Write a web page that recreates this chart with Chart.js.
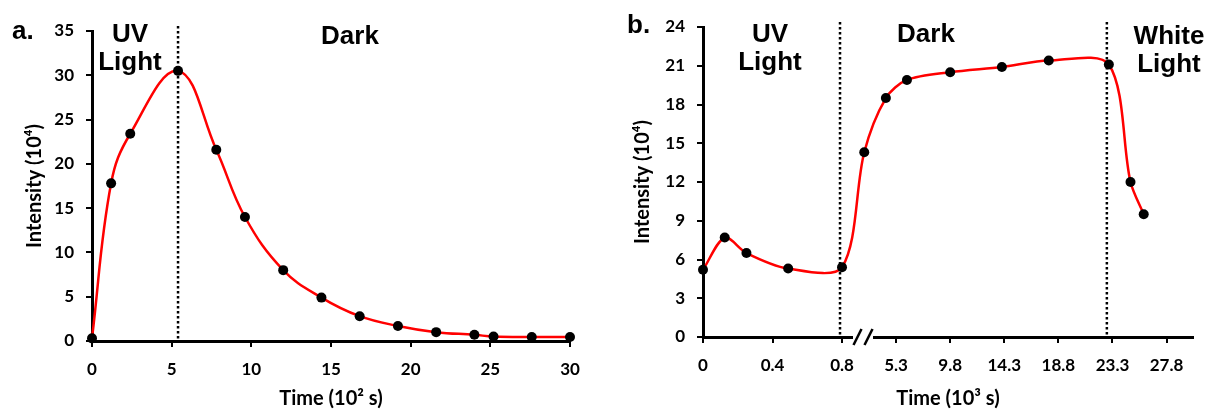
<!DOCTYPE html>
<html>
<head>
<meta charset="utf-8">
<script src="https://cdn.jsdelivr.net/npm/chart.js@4.4.1/dist/chart.umd.min.js"></script>
<style>
  body { margin: 0; background: #fff; }
  #wrap { position: relative; width: 1208px; height: 411px; overflow: hidden; }
  .box { position: absolute; top: 0; }
  .lbl { position: absolute; font-family: "Liberation Sans", Arial, sans-serif; font-weight: bold;
         font-size: 26px; line-height: 28px; color: #000; text-align: center; white-space: nowrap; }
</style>
</head>
<body>
<div id="wrap">
  <div class="box" style="left:0;width:600px;height:411px"><canvas id="chartA" width="600" height="411"></canvas></div>
  <div class="box" style="left:600px;width:608px;height:411px"><canvas id="chartB" width="608" height="411"></canvas></div>

  <div class="lbl" style="left:12px;top:16px;text-align:left">a.</div>
  <div class="lbl" style="left:80px;width:100px;top:19px">UV<br>Light</div>
  <div class="lbl" style="left:300px;width:100px;top:21px">Dark</div>

  <div class="lbl" style="left:627px;top:10px;text-align:left">b.</div>
  <div class="lbl" style="left:720px;width:100px;top:19px">UV<br>Light</div>
  <div class="lbl" style="left:876px;width:100px;top:19px">Dark</div>
  <div class="lbl" style="left:1119px;width:100px;top:21px">White<br>Light</div>
</div>
<script>
// panel a: time in 10^2 s, intensity in 10^4
const timeA = [0, 1.2, 2.4, 5.4, 7.8, 9.6, 12, 14.4, 16.8, 19.2, 21.6, 24, 25.2, 27.6, 30];
const intensityA = [0.3, 17.8, 23.4, 30.5, 21.6, 14.0, 8.0, 4.9, 2.8, 1.7, 1.0, 0.7, 0.5, 0.45, 0.45];
const switchA = [5.4];

// panel b: time in 10^3 s (axis broken after 0.8)
const timeB = [0, 0.125, 0.25, 0.49, 0.8, 2.65, 4.45, 6.2, 9.8, 14.1, 18.0, 23.0, 24.8, 25.9];
const intensityB = [5.2, 7.7, 6.5, 5.3, 5.4, 14.3, 18.5, 19.9, 20.5, 20.9, 21.4, 21.1, 12.0, 9.5];
const xTicksB = [0, 0.4, 0.8, 5.3, 9.8, 14.3, 18.8, 23.3, 27.8];
const switchB = [0.8, 23.0];

const BREAK_AT = 0.8;
const BREAK_FRAC = 0.2837;

const tickFont = { family: 'Lato, "Open Sans", sans-serif', weight: 'bold', size: 17 };
const titleFont = { family: 'Lato, "Open Sans", sans-serif', weight: 'bold', size: 20 };

class BrokenLinearScale extends Chart.LinearScale {
    buildTicks() {
        return xTicksB.map(v => ({ value: v }));
    }
    getPixelForValue(value) {
        if (value === null || value === undefined || isNaN(value)) return NaN;
        let d;
        if (value <= BREAK_AT) {
            d = (value - this.min) / (BREAK_AT - this.min) * BREAK_FRAC;
        } else {
            d = BREAK_FRAC + (value - BREAK_AT) / (this.max - BREAK_AT) * (1 - BREAK_FRAC);
        }
        return this.getPixelForDecimal(d);
    }
    getValueForPixel(pixel) {
        const d = this.getDecimalForPixel(pixel);
        if (d <= BREAK_FRAC) return this.min + d / BREAK_FRAC * (BREAK_AT - this.min);
        return BREAK_AT + (d - BREAK_FRAC) / (1 - BREAK_FRAC) * (this.max - BREAK_AT);
    }
}
BrokenLinearScale.id = 'brokenLinear';
BrokenLinearScale.defaults = Chart.LinearScale.defaults;
Chart.register(BrokenLinearScale);

// dotted vertical lines where the light is switched
const switchLines = {
    id: 'switchLines',
    afterDatasetsDraw(chart, args, opts) {
        const { ctx, chartArea } = chart;
        const xs = chart.scales.x;
        ctx.save();
        ctx.strokeStyle = '#000';
        ctx.lineWidth = 2.5;
        ctx.setLineDash([2.5, 2.5]);
        opts.values.forEach(v => {
            const px = xs.getPixelForValue(v) - opts.shift;
            ctx.beginPath();
            ctx.moveTo(px, chartArea.top - 5);
            ctx.lineTo(px, chartArea.bottom);
            ctx.stroke();
        });
        ctx.restore();
    }
};

// the "//" mark on the broken axis
const axisBreak = {
    id: 'axisBreak',
    afterDraw(chart, args, opts) {
        if (!opts.show) return;
        const { ctx, chartArea } = chart;
        const px = chart.scales.x.getPixelForValue(BREAK_AT) + 21;
        const y = chartArea.bottom;
        ctx.save();
        ctx.fillStyle = '#fff';
        ctx.fillRect(px - 10, y - 3, 20, 6);
        ctx.strokeStyle = '#000';
        ctx.lineWidth = 2.5;
        [-5.5, 5.5].forEach(dx => {
            ctx.beginPath();
            ctx.moveTo(px + dx - 4, y + 8);
            ctx.lineTo(px + dx + 4, y - 8);
            ctx.stroke();
        });
        ctx.restore();
    }
};

function makeChart(id, xs, ys, cfg) {
    return new Chart(document.getElementById(id), {
        type: 'line',
        data: {
            datasets: [{
                data: xs.map((t, i) => ({ x: t, y: ys[i] })),
                borderColor: '#ff0000',
                borderWidth: 2.5,
                tension: cfg.tension,
                pointRadius: 5,
                pointBackgroundColor: '#000',
                pointBorderColor: '#000',
                pointBorderWidth: 0,
                clip: false
            }]
        },
        options: {
            responsive: false,
            animation: false,
            devicePixelRatio: 1,
            layout: { padding: cfg.padding },
            plugins: {
                legend: { display: false },
                tooltip: { enabled: false },
                switchLines: { values: cfg.switches, shift: cfg.broken ? 2 : 0 },
                axisBreak: { show: cfg.broken }
            },
            scales: {
                x: {
                    type: cfg.broken ? 'brokenLinear' : 'linear',
                    min: 0,
                    max: 30,
                    afterFit: s => { s.height = cfg.xHeight; },
                    border: { color: '#000', width: 3 },
                    grid: { drawOnChartArea: false, color: '#000', lineWidth: 2, tickLength: 6 },
                    ticks: {
                        stepSize: 5, autoSkip: false, maxRotation: 0, color: '#000',
                        font: tickFont, padding: 12,
                        callback: v => String(v)
                    },
                    title: { display: true, text: cfg.xTitle, color: '#000', font: titleFont, padding: { top: 0, bottom: 0 } }
                },
                y: {
                    min: 0,
                    max: cfg.yMax,
                    afterFit: s => { s.width = cfg.yWidth; },
                    border: { color: '#000', width: 3 },
                    grid: { drawOnChartArea: false, color: '#000', lineWidth: 2, tickLength: 6 },
                    ticks: { stepSize: cfg.yStep, color: '#000', font: tickFont, padding: 12 },
                    title: { display: true, text: 'Intensity (10⁴)', color: '#000', font: titleFont, padding: { top: cfg.yTitlePad, bottom: 0 } }
                }
            }
        },
        plugins: [switchLines, axisBreak]
    });
}

makeChart('chartA', timeA, intensityA, {
    padding: { left: 0, top: 31, right: 30, bottom: 0 },
    xHeight: 70, yWidth: 92, yMax: 35, yStep: 5, yTitlePad: 23, tension: 0.4,
    xTitle: 'Time (10² s)', switches: switchA, broken: false
});

makeChart('chartB', timeB, intensityB, {
    padding: { left: 0, top: 27, right: 15, bottom: 0 },
    xHeight: 74, yWidth: 103, yMax: 24, yStep: 3, yTitlePad: 31, tension: 0.3,
    xTitle: 'Time (10³ s)', switches: switchB, broken: true
});
</script>
</body>
</html>
